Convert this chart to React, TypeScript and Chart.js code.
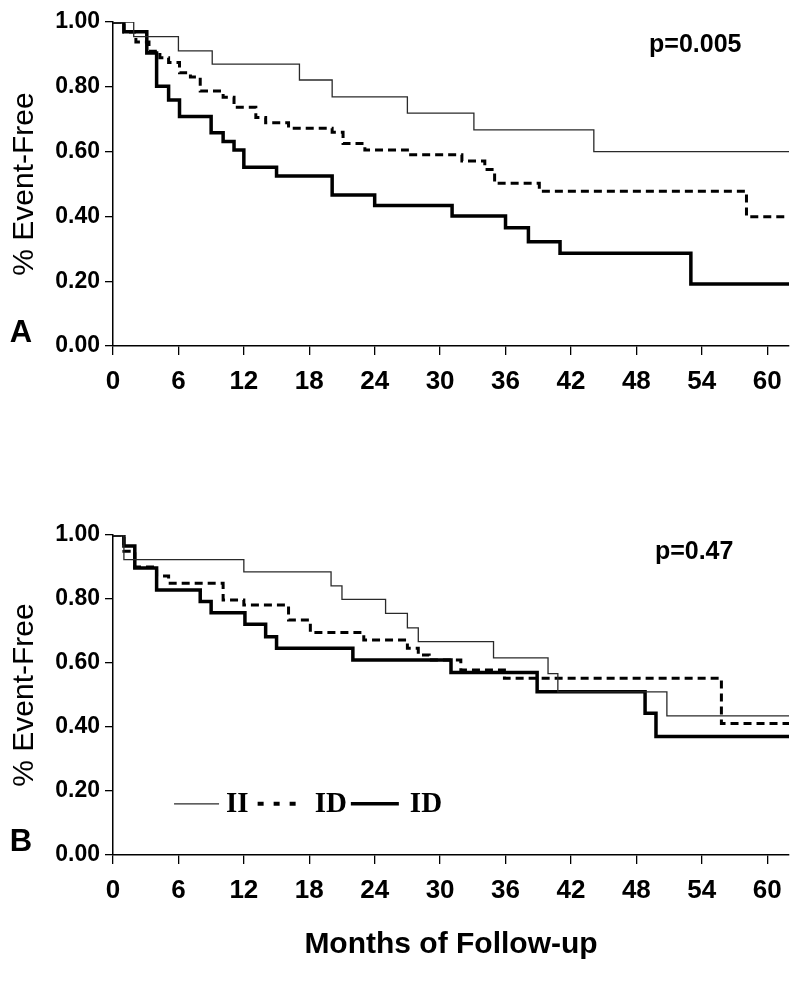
import React, { useEffect, useRef } from 'react';
import { Chart, registerables } from 'chart.js';

Chart.register(...registerables);

// ---- axis ticks ----
const xTickValues = [0, 6, 12, 18, 24, 30, 36, 42, 48, 54, 60];
const yTickValues = [0, 0.2, 0.4, 0.6, 0.8, 1.0];
const yTickLabels = ['0.00', '0.20', '0.40', '0.60', '0.80', '1.00'];
const xMax = 62;

const seriesNames = ['II', 'ID', 'ID'];

// ---- Panel A ----
const aIIMonths = [0, 1.9, 6, 9.1, 17.1, 20.1, 27, 33.1, 44.1, 62];
const aIIValues = [1, 0.955, 0.911, 0.87, 0.821, 0.769, 0.719, 0.667, 0.6, 0.6];

const aDashMonths = [0, 1, 2.1, 3.3, 4.3, 5.1, 6.1, 7.1, 8, 10.1, 11.1, 13.1, 14, 16.1, 20.1, 21.1, 23.1, 27, 32, 34.1, 35, 39.1, 58.1, 62];
const aDashValues = [1, 0.969, 0.938, 0.91, 0.89, 0.875, 0.843, 0.83, 0.787, 0.768, 0.737, 0.705, 0.689, 0.672, 0.66, 0.625, 0.605, 0.59, 0.571, 0.545, 0.502, 0.478, 0.399, 0.399];

const aSolidMonths = [0, 1, 3.1, 4, 5.1, 6.1, 9, 10.1, 11.1, 12, 15, 20.1, 24, 31.1, 36, 38.1, 41, 53, 62];
const aSolidValues = [1, 0.97, 0.904, 0.802, 0.759, 0.708, 0.658, 0.631, 0.605, 0.552, 0.525, 0.466, 0.434, 0.401, 0.365, 0.322, 0.286, 0.191, 0.191];

// ---- Panel B ----
const bIIMonths = [0, 1, 12, 20, 21, 25, 27, 28, 34.9, 39.9, 40.8, 50.8, 62];
const bIIValues = [1, 0.923, 0.885, 0.841, 0.799, 0.755, 0.71, 0.667, 0.616, 0.567, 0.51, 0.435, 0.435];

const bDashMonths = [0, 1, 2, 4, 5.1, 10.1, 12, 16.1, 18.1, 23, 27, 28, 29, 31.9, 35.9, 55.8, 62];
const bDashValues = [1, 0.949, 0.9, 0.872, 0.849, 0.797, 0.781, 0.734, 0.695, 0.672, 0.646, 0.625, 0.609, 0.578, 0.552, 0.411, 0.411];

const bSolidMonths = [0, 1, 2, 4, 8, 9, 12.1, 14, 15, 22, 31, 38.9, 48.8, 49.8, 62];
const bSolidValues = [1, 0.966, 0.897, 0.828, 0.792, 0.757, 0.721, 0.682, 0.646, 0.609, 0.57, 0.51, 0.443, 0.37, 0.37];

const SANS = '"Liberation Sans", Arial, Helvetica, sans-serif';
const NARROW = '"Liberation Sans Narrow", "Arial Narrow", "Liberation Sans", Arial, sans-serif';
const SERIF = '"Liberation Serif", "Times New Roman", serif';

const toPts = (xs: number[], ys: number[]) => xs.map((x, i) => ({ x, y: ys[i] }));

const lineStyles = [
  { borderColor: '#2a2a2a', borderWidth: 1.3, borderDash: [] as number[] },
  { borderColor: '#000', borderWidth: 3, borderDash: [8, 5] },
  { borderColor: '#000', borderWidth: 3.5, borderDash: [] as number[] },
];

const annotatePlugin = {
  id: 'kmAnnotate',
  afterDraw(chart: any, _args: any, opts: any) {
    const { ctx, chartArea, scales } = chart;
    const xs = scales.x;
    const ys = scales.y;
    ctx.save();
    ctx.fillStyle = '#000';
    // panel letter
    ctx.font = `bold 31px ${SANS}`;
    ctx.textAlign = 'center';
    ctx.textBaseline = 'alphabetic';
    ctx.fillText(opts.letter, chartArea.left - 92, ys.getPixelForValue(0) - 4);
    // p value
    ctx.font = `bold 25px ${SANS}`;
    ctx.textBaseline = 'middle';
    ctx.fillText(opts.pText, xs.getPixelForValue(opts.pAt[0]), ys.getPixelForValue(opts.pAt[1]));
    // legend
    if (opts.legend) {
      const yc = ys.getPixelForValue(opts.legendAt[1]);
      let x = xs.getPixelForValue(opts.legendAt[0]);
      const sampleW = [45, 42, 48];
      const gapBefore = [7, 15, 11];
      const gapAfter = [9, 4, 0];
      ctx.font = `bold 29px ${SERIF}`;
      ctx.textAlign = 'left';
      ctx.textBaseline = 'middle';
      chart.data.datasets.forEach((ds: any, i: number) => {
        const st = lineStyles[i];
        ctx.beginPath();
        ctx.strokeStyle = st.borderColor;
        ctx.lineWidth = i === 1 ? 4 : st.borderWidth;
        ctx.setLineDash(i === 1 ? [6, 10] : []);
        ctx.moveTo(x, yc);
        ctx.lineTo(x + sampleW[i], yc);
        ctx.stroke();
        ctx.setLineDash([]);
        x += sampleW[i] + gapBefore[i];
        ctx.fillText(ds.label, x, yc + 1);
        x += ctx.measureText(ds.label).width + gapAfter[i];
      });
    }
    ctx.restore();
  },
};

type PanelProps = {
  height: number;
  padTop: number;
  xAxisHeight: number;
  series: { months: number[]; values: number[] }[];
  letter: string;
  pText: string;
  pAt: number[];
  legend: boolean;
  showXTitle: boolean;
};

function Panel(p: PanelProps) {
  const ref = useRef<HTMLCanvasElement | null>(null);
  useEffect(() => {
    if (!ref.current) return;
    const chart = new Chart(ref.current, {
      type: 'line',
      data: {
        datasets: p.series.map((s, i) => ({
          label: seriesNames[i],
          data: toPts(s.months, s.values),
          stepped: 'before' as const,
          borderColor: lineStyles[i].borderColor,
          borderWidth: lineStyles[i].borderWidth,
          borderDash: lineStyles[i].borderDash,
          borderCapStyle: 'butt' as const,
          borderJoinStyle: 'miter' as const,
          pointRadius: 0,
          fill: false,
          tension: 0,
        })),
      },
      options: {
        responsive: false,
        animation: false,
        events: [],
        layout: { padding: { top: p.padTop, left: 0, right: 11, bottom: 0 } },
        plugins: {
          legend: { display: false },
          tooltip: { enabled: false },
          title: { display: false },
          kmAnnotate: { letter: p.letter, pText: p.pText, pAt: p.pAt, legend: p.legend, legendAt: [5.6, 0.16] },
        } as any,
        scales: {
          x: {
            type: 'linear',
            min: 0,
            max: xMax,
            afterBuildTicks: (s: any) => {
              s.ticks = xTickValues.map((v) => ({ value: v }));
            },
            afterFit: (s: any) => {
              s.height = p.xAxisHeight;
              s.paddingLeft = 0;
              s.paddingRight = 0;
            },
            grid: { drawOnChartArea: false, drawTicks: true, tickLength: 9, color: '#000', lineWidth: 1.3 },
            border: { display: true, color: '#000', width: 1.5 },
            ticks: {
              color: '#000',
              padding: 11,
              maxRotation: 0,
              autoSkip: false,
              font: { family: NARROW, size: 26, weight: 'bold' },
              callback: (v: any) => String(v),
            },
            title: {
              display: p.showXTitle,
              text: 'Months of Follow-up',
              color: '#000',
              font: { family: NARROW, size: 30, weight: 'bold', lineHeight: 1 },
              padding: { top: 0, bottom: 22 },
            },
          },
          y: {
            type: 'linear',
            min: 0,
            max: 1,
            afterBuildTicks: (s: any) => {
              s.ticks = yTickValues.map((v) => ({ value: v }));
            },
            afterFit: (s: any) => {
              s.width = 113;
              s.paddingTop = 0;
              s.paddingBottom = 0;
            },
            grid: { drawOnChartArea: false, drawTicks: true, tickLength: 8, color: '#000', lineWidth: 1.3 },
            border: { display: true, color: '#000', width: 1.5 },
            ticks: {
              color: '#000',
              padding: 5,
              font: { family: SANS, size: 23, weight: 'bold' },
              callback: (v: any) => {
                const i = yTickValues.findIndex((t) => Math.abs(t - Number(v)) < 1e-6);
                return i >= 0 ? yTickLabels[i] : '';
              },
            },
            title: {
              display: true,
              text: '% Event-Free',
              color: '#000',
              font: { family: SANS, size: 30, weight: 'normal', lineHeight: 1 },
              padding: { top: 10, bottom: 0 },
            },
          },
        },
      },
      plugins: [annotatePlugin],
    });
    return () => chart.destroy();
  }, []);
  return <canvas ref={ref} width={800} height={p.height} style={{ display: 'block', width: 800, height: p.height }} />;
}

export default function App() {
  return (
    <div style={{ position: 'absolute', left: 0, top: 0, width: 800, height: 982, background: '#fff', overflow: 'hidden' }}>
      <Panel
        height={490}
        padTop={22}
        xAxisHeight={144}
        series={[
          { months: aIIMonths, values: aIIValues },
          { months: aDashMonths, values: aDashValues },
          { months: aSolidMonths, values: aSolidValues },
        ]}
        letter="A"
        pText="p=0.005"
        pAt={[53.4, 0.93]}
        legend={false}
        showXTitle={false}
      />
      <Panel
        height={492}
        padTop={45}
        xAxisHeight={127}
        series={[
          { months: bIIMonths, values: bIIValues },
          { months: bDashMonths, values: bDashValues },
          { months: bSolidMonths, values: bSolidValues },
        ]}
        letter="B"
        pText="p=0.47"
        pAt={[53.3, 0.947]}
        legend={true}
        showXTitle={true}
      />
    </div>
  );
}
